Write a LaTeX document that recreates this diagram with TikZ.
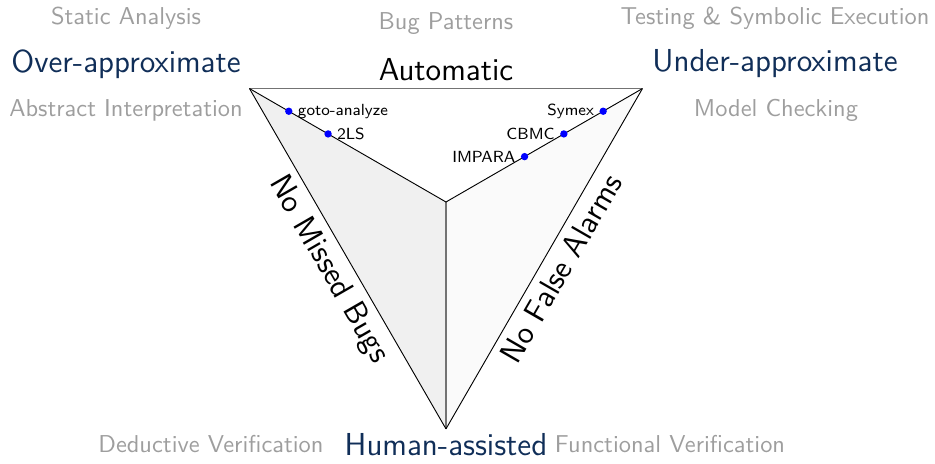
\documentclass[tikz,border=0pt]{standalone}
\usepackage{tikz}
\usetikzlibrary{calc}
\definecolor{navy}{RGB}{16,46,88}
\begin{document}
\begin{tikzpicture}[
    font=\sffamily,
    big/.style={font=\sffamily\fontsize{13.8}{15}\selectfont},
    minor/.style={font=\sffamily\fontsize{10.6}{12}\selectfont, text=black!38},
    tool/.style={font=\sffamily\fontsize{7}{8}\selectfont, inner sep=2pt},
    dot/.style={circle, fill=blue, inner sep=0pt, minimum size=3.2pt}
]
    \useasboundingbox (-6.809,-3.985) rectangle (7.466,3.084);

    % corners of the triangle
    \coordinate (A) at (150:3.464);
    \coordinate (B) at (30:3.464);
    \coordinate (C) at (270:3.464);
    \coordinate (D) at (0,0);

    \fill[black!6] (A) -- (D) -- (C) -- cycle;
    \fill[black!2] (B) -- (D) -- (C) -- cycle;

    \draw[black!55, line width=0.8pt] (A) -- (B);
    \draw[black!55, line width=0.8pt] (D) -- (C);
    \draw[line width=0.4pt] (A) -- (D) -- (B);
    \draw[line width=0.4pt] (A) -- (C)
        node[midway, sloped, below, big] {No Missed Bugs};
    \draw[line width=0.4pt] (C) -- (B)
        node[midway, sloped, below, big] {No False Alarms};

    % tools
    \node[dot] (goto) at ($(A)!0.2!(D)$) {};
    \node[dot] (twols) at ($(A)!0.4!(D)$) {};
    \node[dot] (symex) at ($(B)!0.2!(D)$) {};
    \node[dot] (cbmc) at ($(B)!0.4!(D)$) {};
    \node[dot] (impara) at ($(B)!0.6!(D)$) {};
    \node[tool, anchor=west] at (goto.east) {goto-analyze};
    \node[tool, anchor=west] at (twols.east) {2LS};
    \node[tool, anchor=east] at (symex.west) {Symex};
    \node[tool, anchor=east] at (cbmc.west) {CBMC};
    \node[tool, anchor=east] at (impara.west) {IMPARA};

    % corner labels
    \node[big, text=navy] at (-4.885,2.107) {Over-approximate};
    \node[big] at (0,2.015) {Automatic};
    \node[big, text=navy] at (5.023,2.107) {Under-approximate};
    \node[big, text=navy] at (0,-3.70) {Human-assisted};

    \node[minor] at (-4.885,2.809) {Static Analysis};
    \node[minor] at (0,2.718) {Bug Patterns};
    \node[minor] at (5.023,2.809) {Testing \& Symbolic Execution};
    \node[minor] at (-4.885,1.405) {Abstract Interpretation};
    \node[minor] at (5.038,1.405) {Model Checking};
    \node[minor] at (-3.588,-3.70) {Deductive Verification};
    \node[minor] at (3.42,-3.70) {Functional Verification};
\end{tikzpicture}
\end{document}
